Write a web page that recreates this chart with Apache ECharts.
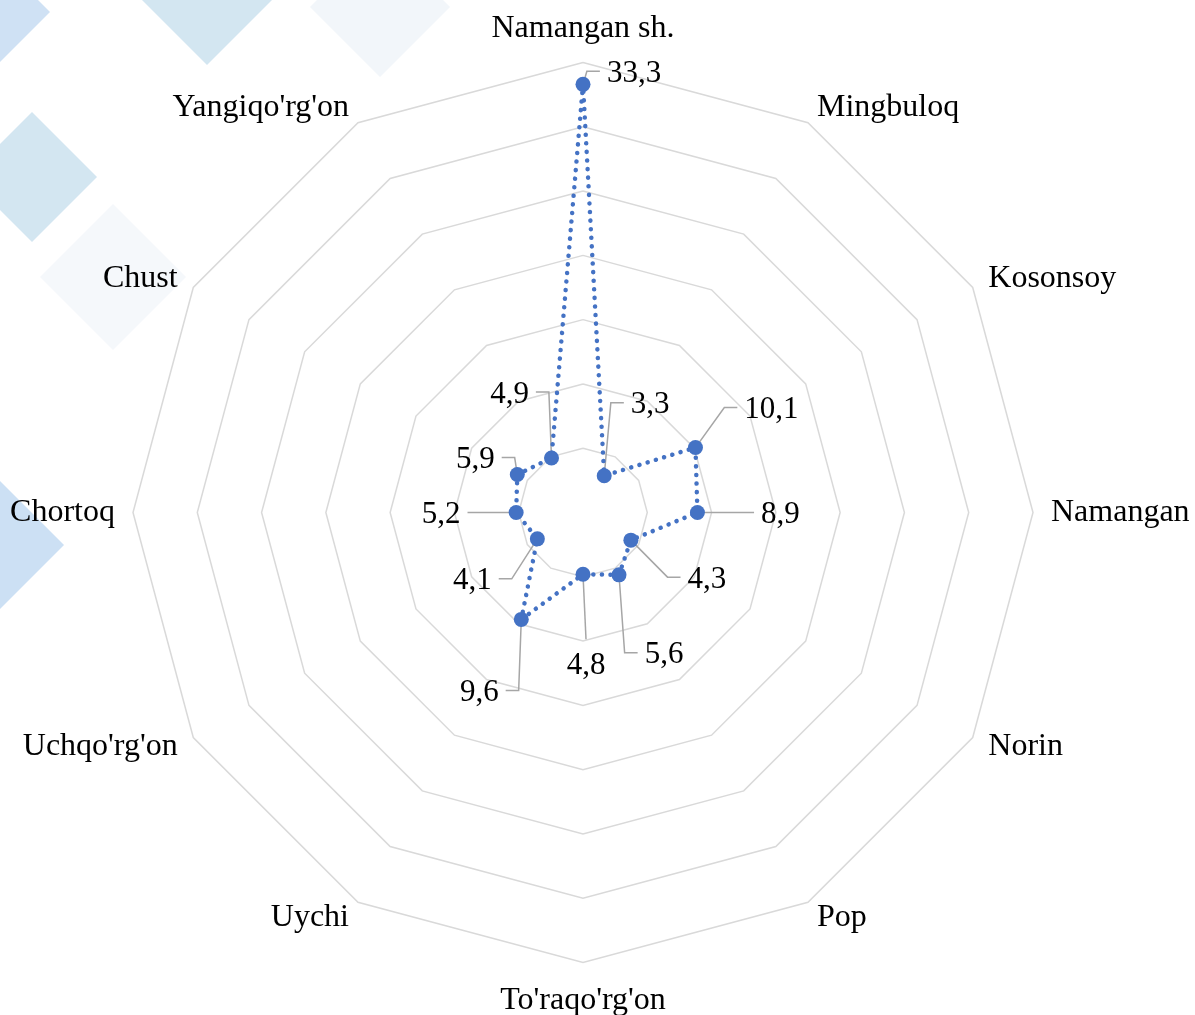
<!DOCTYPE html>
<html>
<head>
<meta charset="utf-8">
<script src="https://cdn.jsdelivr.net/npm/echarts@6/dist/echarts.min.js"></script>
<style>
html,body{margin:0;padding:0;background:#fff;}
#chart{width:1195px;height:1015px;}
</style>
</head>
<body>
<div id="chart"></div>
<script>
// Categories in clockwise order starting from the top
const categories = ["Namangan sh.", "Mingbuloq", "Kosonsoy", "Namangan", "Norin", "Pop",
  "To'raqo'rg'on", "Uychi", "Uchqo'rg'on", "Chortoq", "Chust", "Yangiqo'rg'on"];
const values = [33.3, 3.3, 10.1, 8.9, 4.3, 5.6, 4.8, 9.6, 4.1, 5.2, 5.9, 4.9];
const axisMax = 35;
const ringCount = 7;

// label offsets (dx, dy) from each point, in the same order as categories
const labelOffsets = [[51,-13],[46,-73],[76,-40],[83,0],[76,37],[45,78],[3,89],[-42,71],[-65,40],[-75,0],[-42,-17],[-42,-66]];

const fmt = v => String(v).replace('.', ',');
const offsetByText = {};
values.forEach((v, i) => { offsetByText[fmt(v)] = labelOffsets[i]; });

// ECharts radar lays indicators out counter-clockwise; reorder so they read clockwise
const order = [0].concat(categories.map((_, i) => i).slice(1).reverse());
const indicators = order.map(i => ({ name: categories[i], min: 0, max: axisMax }));
const seriesValues = order.map(i => values[i]);

// decorative background diamonds [cx, cy, half-diagonal, color]
const diamonds = [
  [0, 12, 50, '#CFE1F4'],
  [207, 0, 65, '#D3E6F1'],
  [380, 7, 70, '#F2F6FA'],
  [32, 177, 65, '#D3E6F1'],
  [113, 277, 73, '#F5F8FB'],
  [-2, 545, 66, '#CCE0F4']
];

const font = 'Liberation Serif, Times New Roman, serif';
const nameFontSize = 32;
const valueFontSize = 31;
const textShift = 2.5; // glyph visual centre sits above the text box centre

const chart = echarts.init(document.getElementById('chart'), null, { renderer: 'canvas' });

const diamondGraphics = diamonds.map(d => ({
  type: 'polygon',
  z: -10,
  silent: true,
  shape: { points: [[d[0], d[1] - d[2]], [d[0] + d[2], d[1]], [d[0], d[1] + d[2]], [d[0] - d[2], d[1]]] },
  style: { fill: d[3] }
}));

chart.setOption({
  animation: false,
  backgroundColor: '#ffffff',
  radar: {
    center: [583, 512.5],
    radius: 450,
    startAngle: 90,
    splitNumber: ringCount,
    shape: 'polygon',
    nameGap: 18,
    indicator: indicators,
    axisName: { color: '#000', fontFamily: font, fontSize: nameFontSize, padding: [4, 0, 0, 0] },
    splitLine: { lineStyle: { color: '#D9D9D9', width: 1.5 } },
    splitArea: { show: false },
    axisLine: { show: false },
    axisTick: { show: false },
    axisLabel: { show: false }
  },
  series: [{
    type: 'radar',
    z: 3,
    symbol: 'circle',
    symbolSize: 15,
    itemStyle: { color: '#4472C4' },
    lineStyle: { color: '#4472C4', width: 4.5, type: [0.1, 8.5], cap: 'round' },
    label: {
      show: true,
      position: 'inside',
      color: '#000',
      fontFamily: font,
      fontSize: valueFontSize,
      formatter: p => fmt(p.value)
    },
    labelLayout: params => {
      const o = offsetByText[params.text] || [0, 0];
      return { dx: o[0], dy: o[1] + textShift };
    },
    emphasis: { disabled: true },
    data: [{ value: seriesValues, name: 'data' }]
  }]
});

// leader lines from each point to its label, positioned through the radar coordinate system
let leaderGraphics = [];
try {
  const cs = chart.getModel().getComponent('radar', 0).coordinateSystem;
  const ctx = document.createElement('canvas').getContext('2d');
  ctx.font = valueFontSize + 'px ' + font;
  leaderGraphics = values.map((v, i) => {
    const p = cs.dataToPoint(v, order.indexOf(i));
    const o = labelOffsets[i];
    const cx = p[0] + o[0], cy = p[1] + o[1];
    const w = ctx.measureText(fmt(v)).width;
    let pts;
    if (Math.abs(o[0]) < 20) {
      pts = [[p[0], p[1]], [cx, o[1] > 0 ? cy - 24 : cy + 24]];
    } else {
      const s = o[0] > 0 ? 1 : -1;
      const ex = cx - s * (w / 2 + 7);
      pts = [[p[0], p[1]], [ex - s * 13, cy], [ex, cy]];
    }
    return {
      type: 'polyline', z: 1, silent: true,
      shape: { points: pts },
      style: { stroke: '#A6A6A6', lineWidth: 1.5, fill: null }
    };
  });
} catch (e) { leaderGraphics = []; }

chart.setOption({ graphic: diamondGraphics.concat(leaderGraphics) });
</script>
</body>
</html>
